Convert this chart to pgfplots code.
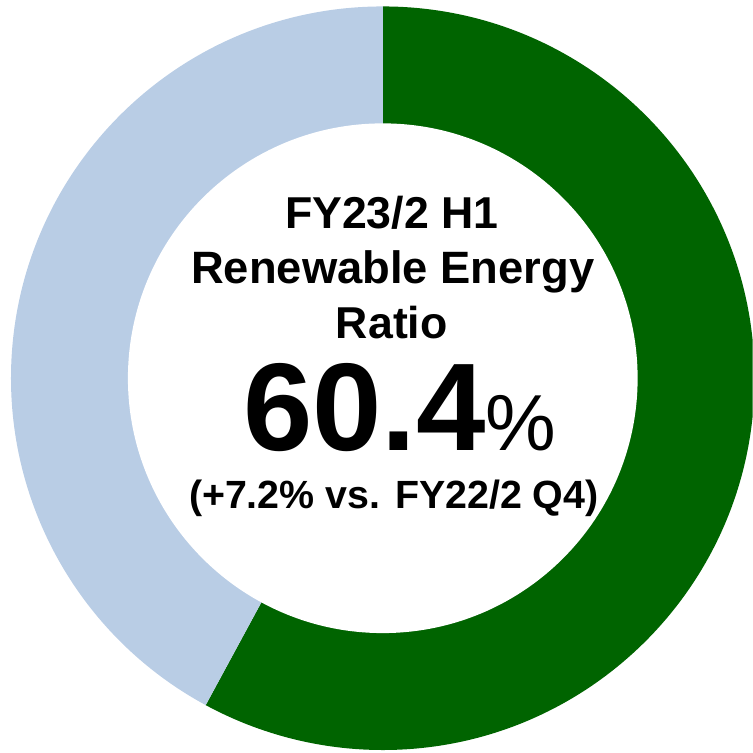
\documentclass[border=0pt]{standalone}
\usepackage{pgfplots}
\pgfplotsset{compat=1.18}
\usepackage{pgfplotstable}
\usepackage{fontspec}
\setmainfont{Liberation Sans}
\definecolor{renew}{HTML}{006400}
\definecolor{other}{HTML}{B9CDE5}

% share of the ring as drawn (the green arc ends a bit before 60.4%)
\pgfplotstableread{
part share
Renewable 57.9
Other 42.1
}\sharetable

\begin{document}%
\pgfplotstablegetelem{0}{share}\of\sharetable%
\pgfmathsetmacro{\splitangle}{90-3.6*\pgfplotsretval}%
\pgfmathsetmacro{\otherangle}{\splitangle+360}%
\begin{tikzpicture}
\begin{axis}[hide axis, scale only axis, x=0.01cm, y=0.01cm,
  xmin=0, xmax=753, ymin=0, ymax=752, clip=true]
\fill[renew] (axis cs:383,374) -- (axis cs:383,746)
  arc[start angle=90, end angle=\splitangle, radius=372] -- cycle;
\fill[other] (axis cs:383,374) -- (axis cs:383,746)
  arc[start angle=90, end angle=\otherangle, radius=372] -- cycle;
\fill[white] (axis cs:383,374) circle[radius=255];
\node[anchor=base, font=\fontsize{12.7}{14}\selectfont\bfseries] at (axis cs:392,524) {FY23/2 H1};
\node[anchor=base, font=\fontsize{12.9}{14}\selectfont\bfseries] at (axis cs:393,469) {Renewable Energy};
\node[anchor=base, font=\fontsize{12.7}{14}\selectfont\bfseries] at (axis cs:392,414) {Ratio};
\node[anchor=base, inner sep=0pt] at (axis cs:400,302)
  {{\fontsize{35.5}{38}\selectfont\bfseries 60.4}{\fontsize{22.6}{24}\selectfont\%}};
\node[anchor=base, font=\fontsize{11.2}{13}\selectfont\bfseries] at (axis cs:394,244) {(+7.2\% vs. FY22/2 Q4)};
\end{axis}
\pgfresetboundingbox
\useasboundingbox (0,0) rectangle (7.53cm,7.52cm);
\end{tikzpicture}%
\end{document}
